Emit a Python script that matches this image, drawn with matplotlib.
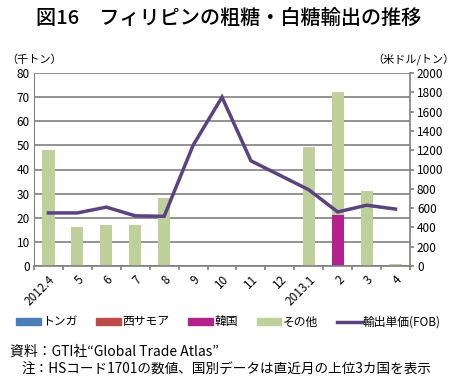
import matplotlib
matplotlib.use("Agg")
import matplotlib.pyplot as plt
from matplotlib.lines import Line2D
from matplotlib.patches import Patch
import numpy as np

plt.rcParams['font.family'] = ['Noto Sans CJK JP', 'DejaVu Sans']

months = ["2012.4", "5", "6", "7", "8", "9", "10", "11", "12", "2013.1", "2", "3", "4"]
tonga = [0, 0, 0, 0, 0, 0, 0, 0, 0, 0, 0, 0, 0]
samoa = [0, 0, 0, 0, 0, 0, 0, 0, 0, 0, 0, 0, 0]
korea = [0, 0, 0, 0, 0, 0, 0, 0, 0, 0, 21, 0, 0]
other = [48, 16, 17, 17, 28, 0, 0, 0, 0, 49.5, 51, 31, 1]
price = [550, 550, 610, 520, 515, 1250, 1750, 1090, 940, 790, 560, 630, 590]

c_tonga = "#4a7ebb"
c_samoa = "#be4b48"
c_korea = "#b5218c"
c_other = "#bfd19b"
c_line = "#5b4281"

fig = plt.figure(figsize=(4.57, 3.84), dpi=100)
ax = fig.add_axes([34/457, 1 - 266/384, (410 - 34)/457, (266 - 73)/384])
x = np.arange(len(months))
w = 0.42
b0 = np.zeros(len(months))
ax.bar(x, tonga, w, bottom=b0, color=c_tonga)
b1 = b0 + np.array(tonga)
ax.bar(x, samoa, w, bottom=b1, color=c_samoa)
b2 = b1 + np.array(samoa)
ax.bar(x, korea, w, bottom=b2, color=c_korea)
b3 = b2 + np.array(korea)
ax.bar(x, other, w, bottom=b3, color=c_other)

ax.set_ylim(0, 80)
ax.set_yticks(range(0, 81, 10))
ax.set_xlim(-0.5, len(months) - 0.5)
ax.set_xticks(x)
ax.set_xticks(np.arange(len(months) + 1) - 0.5, minor=True)
ax.set_xticklabels(months, rotation=45, ha="right", rotation_mode="anchor", fontsize=8.5)
ax.yaxis.grid(True, color="#808080", linewidth=1.2)
ax.set_axisbelow(True)
for s in ["top", "right"]:
    ax.spines[s].set_visible(False)
ax.spines["left"].set_color("#808080")
ax.spines["bottom"].set_color("#808080")
ax.spines["bottom"].set_linewidth(1.2)
ax.tick_params(axis="y", labelsize=8.5, length=0, pad=3)
ax.tick_params(axis="x", which="major", length=0, pad=5)
ax.tick_params(axis="x", which="minor", length=3, color="#808080", width=1.2)

ax2 = ax.twinx()
ax2.plot(x, price, color=c_line, linewidth=2.5, solid_joinstyle="miter")
ax2.set_ylim(0, 2000)
ax2.set_yticks(range(0, 2001, 200))
for s in ["top", "left", "bottom"]:
    ax2.spines[s].set_visible(False)
ax2.spines["right"].set_color("#808080")
ax2.spines["right"].set_linewidth(1.2)
ax2.tick_params(axis="y", labelsize=8.5, length=3, color="#808080", width=1.2, pad=2)

fig.text(0.5, 1 - 18/384, "図16　フィリピンの粗糖・白糖輸出の推移", ha="center", va="center",
         fontsize=14.5, fontweight="medium")
fig.text(6/457, 1 - 60/384, "（千トン）", ha="left", va="center", fontsize=8)
fig.text(455/457, 1 - 60/384, "（米ドル/トン）", ha="right", va="center", fontsize=8)

handles = [Patch(color=c_tonga), Patch(color=c_samoa), Patch(color=c_korea), Patch(color=c_other),
           Line2D([0], [0], color=c_line, linewidth=2.5)]
labels = ["トンガ", "西サモア", "韓国", "その他", "輸出単価(FOB)"]
fig.legend(handles, labels, loc="center", bbox_to_anchor=(0.5, 1 - 322/384), ncol=5,
           frameon=False, fontsize=8.5, handlelength=2.1, handleheight=0.5, handletextpad=0.1,
           columnspacing=1.6)

fig.text(10/457, 1 - 352/384, "資料：GTI社“Global Trade Atlas”", ha="left", va="center", fontsize=10)
fig.text(22/457, 1 - 370/384, "注：HSコード1701の数値、国別データは直近月の上位3カ国を表示", ha="left", va="center", fontsize=9.8)

fig.savefig("out.png", dpi=100)
